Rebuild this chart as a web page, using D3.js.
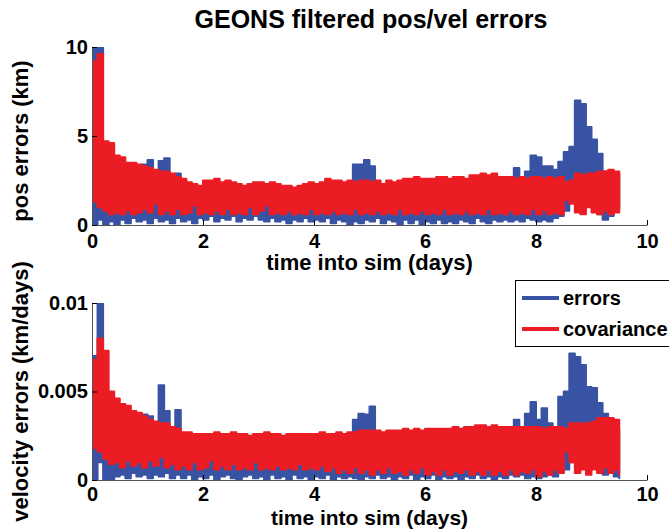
<!DOCTYPE html>
<html><head><meta charset="utf-8">
<script src="https://cdn.jsdelivr.net/npm/d3@7"></script>
<style>
body{margin:0;background:#fff}
svg{display:block;font-family:"Liberation Sans",Arial,Helvetica,sans-serif;font-weight:bold}
</style>
</head><body>
<svg id="c" width="669" height="529"></svg>
<script>
// ---------------- data ----------------
const titleText = "GEONS filtered pos/vel errors";
const xLabel = "time into sim (days)";
const posLabel = "pos errors (km)";
const velLabel = "velocity errors (km/days)";
const seriesNames = ["errors", "covariance"];
const seriesColors = ["#3953a4", "#ec1c24"];
const xTicks = [0, 2, 4, 6, 8, 10];
const posTicks = [0, 5, 10];
const posTickLabels = ["0", "5", "10"];
const velTicks = [0, 0.005, 0.01];
const velTickLabels = ["0", "0.005", "0.01"];
const stepDays = 0.1; // each entry below = low / high extent of the (densely oscillating) trace over 0.1 day

// position errors (km): low and high extent per 0.1-day bin, t = 0 ... 9.5
const posErrorsLow = [
0.0,0.3,0.0,0.2,0.0,0.3,0.1,0.4,0.2,0.3,
0.1,0.4,0.2,0.3,0.1,0.4,0.2,0.3,0.1,0.4,
0.3,0.5,0.2,0.4,0.3,0.5,0.2,0.4,0.3,0.5,
0.3,0.2,0.4,0.2,0.3,0.1,0.3,0.2,0.4,0.2,
0.3,0.2,0.4,0.1,0.3,0.2,0.0,0.2,0.1,0.3,
0.2,0.4,0.1,0.3,0.2,0.0,0.3,0.1,0.3,0.0,
0.2,0.1,0.3,0.1,0.2,0.1,0.3,0.2,0.1,0.4,
0.2,0.1,0.3,0.2,0.3,0.2,0.3,0.2,0.4,0.3,
0.2,0.3,0.2,0.4,0.5,0.8,1.3,2.0,1.0,1.5,
1.2,0.6,0.3,0.5,0.9,0.9
];
const posErrorsHigh = [
10.2,10.2,3.5,4.0,3.5,3.4,3.2,3.0,3.0,3.4,
3.65,2.9,3.6,3.75,2.8,2.9,2.5,2.3,2.2,2.0,
2.3,2.2,2.3,2.1,2.2,2.0,2.1,2.0,2.1,2.2,
2.1,2.0,2.1,2.0,1.9,2.0,1.9,2.0,2.1,2.2,
2.1,2.2,2.3,2.2,2.3,2.2,2.4,3.4,3.4,3.65,
3.3,2.3,2.2,2.3,2.2,2.3,2.4,2.4,2.5,2.4,
2.4,2.4,2.5,2.4,2.5,2.5,2.4,2.4,2.6,2.5,
2.6,2.5,2.6,2.5,2.4,2.5,3.2,2.6,3.0,3.9,
3.8,3.3,3.3,3.1,3.55,4.1,4.4,7.0,6.8,5.5,
4.8,4.0,3.0,2.8,2.9,2.9
];
const posCovLow = [
1.3,1.0,0.8,0.6,0.7,0.6,0.8,0.6,0.7,0.9,
0.7,1.2,0.6,0.8,0.6,0.9,0.6,0.7,1.1,0.6,
0.7,0.6,0.8,0.6,0.9,0.6,0.7,0.6,1.0,0.6,
0.8,1.1,0.6,0.7,0.6,0.8,0.6,0.7,0.6,0.9,
0.6,0.7,0.6,0.8,0.6,0.7,0.6,0.9,0.6,0.7,
0.6,0.8,0.6,0.7,0.6,0.9,0.6,0.7,0.6,0.8,
0.6,0.7,0.6,0.9,0.6,0.7,0.6,0.8,0.6,0.7,
0.6,0.9,0.6,0.7,0.6,0.8,0.6,0.7,0.6,0.9,
0.6,0.8,0.6,0.7,0.6,1.4,1.2,0.7,0.6,1.0,
0.7,0.6,0.8,0.6,0.7,0.8
];
const posCovHigh = [
9.2,9.6,4.7,4.6,3.9,3.8,3.5,3.5,3.4,3.3,
3.2,3.1,3.0,3.0,2.9,2.7,2.6,2.4,2.3,2.2,
2.5,2.5,2.6,2.4,2.5,2.4,2.3,2.2,2.3,2.4,
2.4,2.3,2.4,2.3,2.2,2.2,2.1,2.2,2.3,2.4,
2.3,2.4,2.6,2.5,2.5,2.4,2.5,2.4,2.5,2.5,
2.4,2.5,2.3,2.5,2.4,2.5,2.6,2.6,2.7,2.6,
2.6,2.6,2.7,2.7,2.6,2.7,2.7,2.6,2.8,2.8,
2.9,2.8,2.9,2.7,2.7,2.7,2.6,2.7,2.6,2.7,
2.7,2.6,2.7,2.6,2.7,2.4,2.5,2.9,2.8,2.9,
2.9,3.0,3.0,3.1,3.0,3.0
];

// velocity errors (km/days): low and high extent per 0.1-day bin, t = 0 ... 9.5
const velErrorsLow = [
0,0.001,0,0,0.0002,0.0003,0.0001,0.0004,0.0002,0.0003,
0.0001,0.0003,0.0002,0.0004,0.0001,0.0003,0.0001,0.0003,0,0.0002,
0.0001,0.0003,0,0.0002,0.0003,0.0001,0,0.0002,0.0003,0.0001,
0.0002,0,0.0003,0.0001,0.0002,0,0.0003,0.0001,0.0002,0,
0.0002,0.0001,0.0003,0,0.0002,0.0001,0.0002,0.0001,0,0.0002,
0.0001,0.0003,0.0001,0.0002,0,0.0002,0.0001,0.0003,0,0.0002,
0.0001,0.0003,0,0.0002,0.0001,0.0002,0,0.0002,0.0001,0.0003,
0.0001,0.0002,0,0.0002,0.0001,0.0003,0.0002,0.0003,0.0001,0.0002,
0.0001,0.0002,0.0003,0.0002,0.0004,0.0006,0.001,0.002,0.0015,0.001,
0.0008,0.0006,0.0003,0.0004,0.0002,0.0001
];
const velErrorsHigh = [
0.007,0.0103,0.0042,0.0045,0.0038,0.0036,0.0035,0.0033,0.0033,0.0037,
0.0036,0.0029,0.00535,0.0039,0.0028,0.00395,0.0024,0.0023,0.0022,0.0021,
0.0023,0.0022,0.0022,0.0021,0.0022,0.002,0.0021,0.0022,0.0021,0.0022,
0.0021,0.002,0.0022,0.0021,0.002,0.0021,0.0022,0.0021,0.0022,0.0023,
0.0022,0.0023,0.0022,0.0023,0.0024,0.0023,0.0026,0.0034,0.00375,0.0037,
0.00415,0.0025,0.0024,0.0025,0.0024,0.0025,0.0026,0.0025,0.0026,0.0025,
0.0026,0.0026,0.0027,0.0026,0.0027,0.003,0.0027,0.0026,0.0027,0.0028,
0.0028,0.0027,0.0028,0.0027,0.0028,0.0027,0.0034,0.0028,0.00375,0.0044,
0.0034,0.00405,0.0032,0.0029,0.0047,0.005,0.00715,0.00695,0.0065,0.00525,
0.0052,0.00435,0.00375,0.0028,0.0029,0.0029
];
const velCovLow = [
0.0018,0.0016,0.0012,0.0009,0.001,0.0007,0.0011,0.0008,0.001,0.0007,
0.0011,0.0008,0.0013,0.0007,0.0009,0.0006,0.0008,0.0006,0.001,0.0006,
0.0007,0.0011,0.0006,0.0008,0.0006,0.0009,0.0006,0.0007,0.0006,0.001,
0.0006,0.0007,0.0006,0.0008,0.0006,0.0007,0.0006,0.0009,0.0006,0.0007,
0.0006,0.0008,0.0005,0.0007,0.0004,0.0006,0.0004,0.0007,0.0004,0.0006,
0.0003,0.0006,0.0004,0.0007,0.0004,0.0005,0.0003,0.0006,0.0004,0.0007,
0.0003,0.0005,0.0003,0.0006,0.0003,0.0005,0.0004,0.0006,0.0003,0.0005,
0.0003,0.0006,0.0003,0.0005,0.0003,0.0006,0.0003,0.0005,0.0004,0.0006,
0.0002,0.0005,0.0003,0.0006,0.0004,0.0016,0.001,0.0004,0.0006,0.0003,
0.0006,0.0004,0.0007,0.0004,0.0006,0.0003
];
const velCovHigh = [
0.0068,0.008,0.0073,0.005,0.0046,0.0043,0.0042,0.0039,0.0038,0.0036,
0.0034,0.0033,0.0032,0.0032,0.003,0.0029,0.0027,0.0027,0.0026,0.0026,
0.0026,0.0026,0.0027,0.0026,0.0026,0.0027,0.0026,0.0026,0.0025,0.0026,
0.0026,0.0027,0.0026,0.0026,0.0025,0.0026,0.0026,0.0026,0.0026,0.0026,
0.0026,0.0027,0.0026,0.0026,0.0027,0.0026,0.0027,0.0027,0.0028,0.0028,
0.0028,0.0028,0.0027,0.0028,0.0028,0.0028,0.0029,0.0028,0.0029,0.0028,
0.0029,0.0029,0.0029,0.0029,0.0029,0.003,0.0029,0.003,0.003,0.0031,
0.0031,0.003,0.0031,0.003,0.003,0.003,0.003,0.003,0.003,0.003,
0.003,0.0029,0.003,0.003,0.003,0.0029,0.0032,0.0032,0.0032,0.0032,
0.0033,0.0035,0.0035,0.0035,0.0034,0.0034
];

// ---------------- drawing ----------------
const days = posErrorsLow.map((_, i) => i * stepDays);
const svg = d3.select("#c");
const x = d3.scaleLinear().domain([0, 10]).range([92, 647]);

const panels = [
  { id: "top", series: [[posErrorsLow, posErrorsHigh], [posCovLow, posCovHigh]],
    y: d3.scaleLinear().domain([0, 10]).range([225, 47]),
    ticks: posTicks, tickLabels: posTickLabels, ylabel: posLabel,
    xlabelY: 270, xlabelSize: 22, tickPad: 9, ylabelShift: 5 },
  { id: "bot", series: [[velErrorsLow, velErrorsHigh], [velCovLow, velCovHigh]],
    y: d3.scaleLinear().domain([0, 0.01]).range([480, 303]),
    ticks: velTicks, tickLabels: velTickLabels, ylabel: velLabel,
    xlabelY: 524.5, xlabelSize: 21, tickPad: 7, ylabelShift: 0 }
];

const defs = svg.append("defs");

panels.forEach(p => {
  const [y0, y1] = p.y.range();
  defs.append("clipPath").attr("id", "clip-" + p.id)
    .append("rect").attr("x", x(0)).attr("y", y1)
    .attr("width", x(10) - x(0)).attr("height", y0 - y1);

  const g = svg.append("g");
  const plot = g.append("g").attr("clip-path", `url(#clip-${p.id})`);
  p.series.forEach(([lo, hi], si) => {
    const area = d3.area().curve(d3.curveStepAfter)
      .x(i => x(days[i])).y0(i => p.y(lo[i])).y1(i => p.y(hi[i]));
    plot.append("path").attr("d", area(d3.range(lo.length)))
      .attr("fill", seriesColors[si])
      .attr("stroke", seriesColors[si]).attr("stroke-width", 2)
      .attr("stroke-linejoin", "round");
  });

  const xa = g.append("g").attr("transform", `translate(0,${y0})`)
    .call(d3.axisBottom(x).tickValues(xTicks).tickFormat(d3.format("d"))
      .tickSize(-5).tickSizeOuter(0).tickPadding(p.tickPad));
  const ya = g.append("g").attr("transform", `translate(${x(0)},0)`)
    .call(d3.axisLeft(p.y).tickValues(p.ticks).tickFormat((d, i) => p.tickLabels[i])
      .tickSize(-5).tickSizeOuter(0).tickPadding(4));
  [xa, ya].forEach(a => {
    a.attr("font-family", null).attr("font-size", null);
    a.select(".domain").attr("stroke", "#555").attr("stroke-width", 1);
    a.selectAll(".tick line").attr("stroke", "#000");
    a.selectAll(".tick text").attr("fill", "#000").style("font-size", "20px").style("font-weight", "bold");
  });

  svg.append("text").attr("x", (x(0) + x(10)) / 2).attr("y", p.xlabelY)
    .attr("text-anchor", "middle").style("font-size", p.xlabelSize + "px").text(xLabel);
  svg.append("text")
    .attr("transform", `translate(28,${(y0 + y1) / 2 + p.ylabelShift}) rotate(-90)`)
    .attr("text-anchor", "middle").style("font-size", "22px").text(p.ylabel);
});

svg.append("text").attr("x", 371).attr("y", 28).attr("text-anchor", "middle")
  .style("font-size", "25px").text(titleText);

const lg = svg.append("g");
lg.append("rect").attr("x", 515.5).attr("y", 280.5).attr("width", 170).attr("height", 66)
  .attr("fill", "#fff").attr("stroke", "#000").attr("stroke-width", 1);
seriesNames.forEach((name, i) => {
  const yy = 298 + i * 31;
  lg.append("line").attr("x1", 522).attr("x2", 559).attr("y1", yy).attr("y2", yy)
    .attr("stroke", seriesColors[i]).attr("stroke-width", 4);
  lg.append("text").attr("x", 563).attr("y", yy + 7).style("font-size", "20px").text(name);
});
</script>
</body></html>
